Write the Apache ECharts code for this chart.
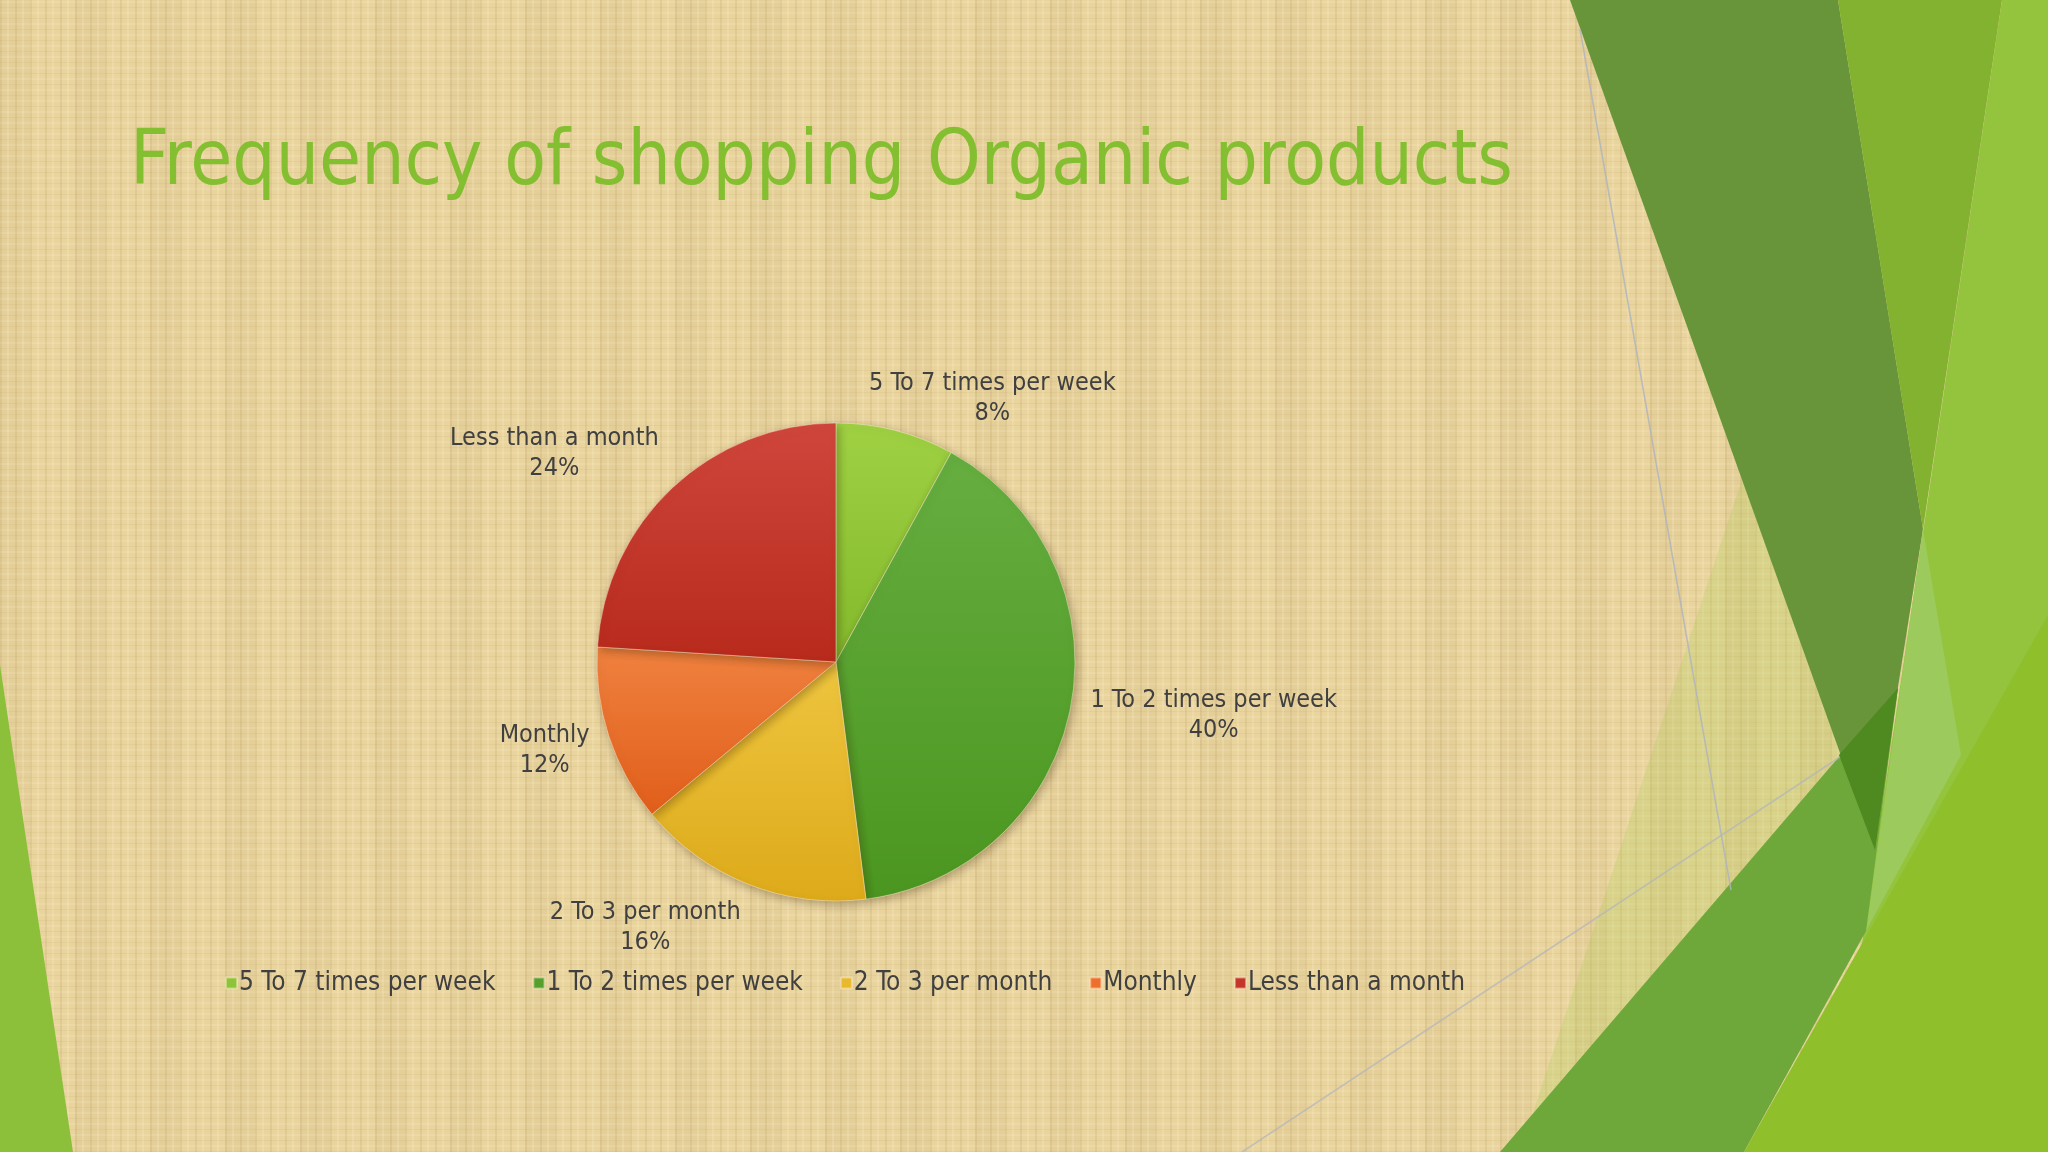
<!DOCTYPE html>
<html>
<head>
<meta charset="utf-8">
<script src="https://cdn.jsdelivr.net/npm/echarts@6/dist/echarts.min.js"></script>
<style>
html,body{margin:0;padding:0;}
body{width:2048px;height:1152px;overflow:hidden;
background-color:#e9d49e;
background-image:
 repeating-linear-gradient(90deg, rgba(140,105,45,0.10) 0px, rgba(140,105,45,0.10) 2px, transparent 2px, transparent 7px, rgba(255,245,210,0.18) 7px, rgba(255,245,210,0.18) 9px, transparent 9px, transparent 15px),
 repeating-linear-gradient(0deg, rgba(150,115,55,0.07) 0px, rgba(150,115,55,0.07) 1px, transparent 1px, transparent 5px, rgba(255,250,220,0.12) 5px, rgba(255,250,220,0.12) 7px, transparent 7px, transparent 11px),
 repeating-linear-gradient(90deg, rgba(160,120,60,0.06) 0px, rgba(160,120,60,0.06) 30px, transparent 30px, transparent 75px);
}
#chart{width:2048px;height:1152px;}
</style>
</head>
<body>
<div id="chart"></div>
<script>
const titleText = 'Frequency of shopping Organic products';
const categories = ['5 To 7 times per week', '1 To 2 times per week', '2 To 3 per month', 'Monthly', 'Less than a month'];
const values = [8, 40, 16, 12, 24];
const topColors = ['#9fd143', '#66ae40', '#eec53f', '#f0813f', '#d0463c'];
const bottomColors = ['#83b92c', '#4b9620', '#ddaa1a', '#e05e1a', '#b72a1c'];
const legendColors = ['#8cc43a', '#55a02c', '#e8b92c', '#ee6e2c', '#c4352a'];

const FONT = '"DejaVu Sans Condensed", "DejaVu Sans", sans-serif';
const CX = 836, CY = 662, R = 239;
const total = values.reduce((a, b) => a + b, 0);

const chart = echarts.init(document.getElementById('chart'), null, {renderer: 'canvas'});

const shapes = [
  {pts: [[1745,470],[1840,753],[1898,691],[1540,1110],[1520,1152]], fill: 'rgba(175,205,85,0.28)'},
  {pts: [[1570,0],[1838,0],[1923,529],[1873,845]], fill: '#68953a'},
  {pts: [[1838,0],[2002,0],[1923,529]], fill: '#82b230'},
  {pts: [[2002,0],[2048,0],[2048,1152],[1831,1152]], fill: '#94c43e'},
  {pts: [[1923,529],[1961,755],[1866,931]], fill: '#9dca5c'},
  {pts: [[1500,1152],[1898,688],[1866,931],[1744,1152]], fill: '#6fa83a'},
  {pts: [[1839,755],[1898,688],[1875,850]], fill: '#4e8a20'},
  {pts: [[1744,1152],[2048,615],[2048,1152]], fill: '#8fc02c'},
  {pts: [[0,665],[73,1152],[0,1152]], fill: '#8cc03a'}
];
const graphics = shapes.map(s => ({
  type: 'polygon', silent: true, z: -10,
  shape: {points: s.pts}, style: {fill: s.fill}
}));
graphics.push({type: 'polyline', silent: true, z: -9, shape: {points: [[1580,29],[1731,890]]}, style: {stroke: 'rgba(175,180,190,0.85)', lineWidth: 1.5}});
graphics.push({type: 'polyline', silent: true, z: -9, shape: {points: [[1242,1152],[1840,757]]}, style: {stroke: 'rgba(175,180,190,0.7)', lineWidth: 1.5}});

const data = categories.map((name, i) => ({
  name: name,
  value: values[i],
  itemStyle: {
    color: new echarts.graphic.LinearGradient(0, 0, 0, 1, [
      {offset: 0, color: topColors[i]},
      {offset: 1, color: bottomColors[i]}
    ])
  }
}));

function labelLayout(params) {
  const i = params.dataIndex;
  let start = 0;
  for (let k = 0; k < i; k++) start += values[k];
  const mid = (start + values[i] / 2) / total * Math.PI * 2;
  const ux = Math.sin(mid), uy = -Math.cos(mid);
  const px = CX + (R + 20) * ux;
  const py = CY + (R + 14) * uy;
  const w = params.labelRect.width, h = params.labelRect.height;
  const f = Math.min(1, Math.abs(ux) * 3);
  const k = ux > 0 && uy < 0 ? 0.65 : 1.1;
  return {
    x: px + Math.sign(ux) * f * w / 2,
    y: py + uy * k * h / 2,
    align: 'center',
    verticalAlign: 'middle'
  };
}

const option = {
  backgroundColor: 'transparent',
  animation: false,
  graphic: graphics,
  title: {
    text: titleText,
    left: 125,
    top: 121,
    textStyle: {color: '#84bf31', fontFamily: FONT, fontWeight: 'normal', fontSize: 76}
  },
  legend: {
    data: categories.map((c, i) => ({name: c, itemStyle: {color: legendColors[i]}})),
    left: 220,
    top: 965,
    icon: 'rect',
    itemWidth: 11,
    itemHeight: 11,
    itemGap: 37,
    textStyle: {color: '#404040', fontFamily: FONT, fontSize: 26, padding: [0, 0, 0, -3]}
  },
  series: [{
    type: 'pie',
    center: [CX, CY],
    radius: R,
    startAngle: 90,
    clockwise: true,
    z: 2,
    data: data,
    itemStyle: {
      borderColor: 'rgba(255,240,210,0.45)',
      borderWidth: 1,
      shadowBlur: 10,
      shadowColor: 'rgba(60,40,0,0.35)',
      shadowOffsetY: 3,
      shadowOffsetX: 2
    },
    label: {
      show: true,
      position: 'outside',
      formatter: '{b}\n{c}%',
      color: '#404040',
      fontFamily: FONT,
      fontSize: 25,
      lineHeight: 30,
      align: 'center'
    },
    labelLine: {show: false, length: 10, length2: 0},
    labelLayout: labelLayout,
    emphasis: {disabled: true}
  }]
};
chart.setOption(option);
</script>
</body>
</html>
